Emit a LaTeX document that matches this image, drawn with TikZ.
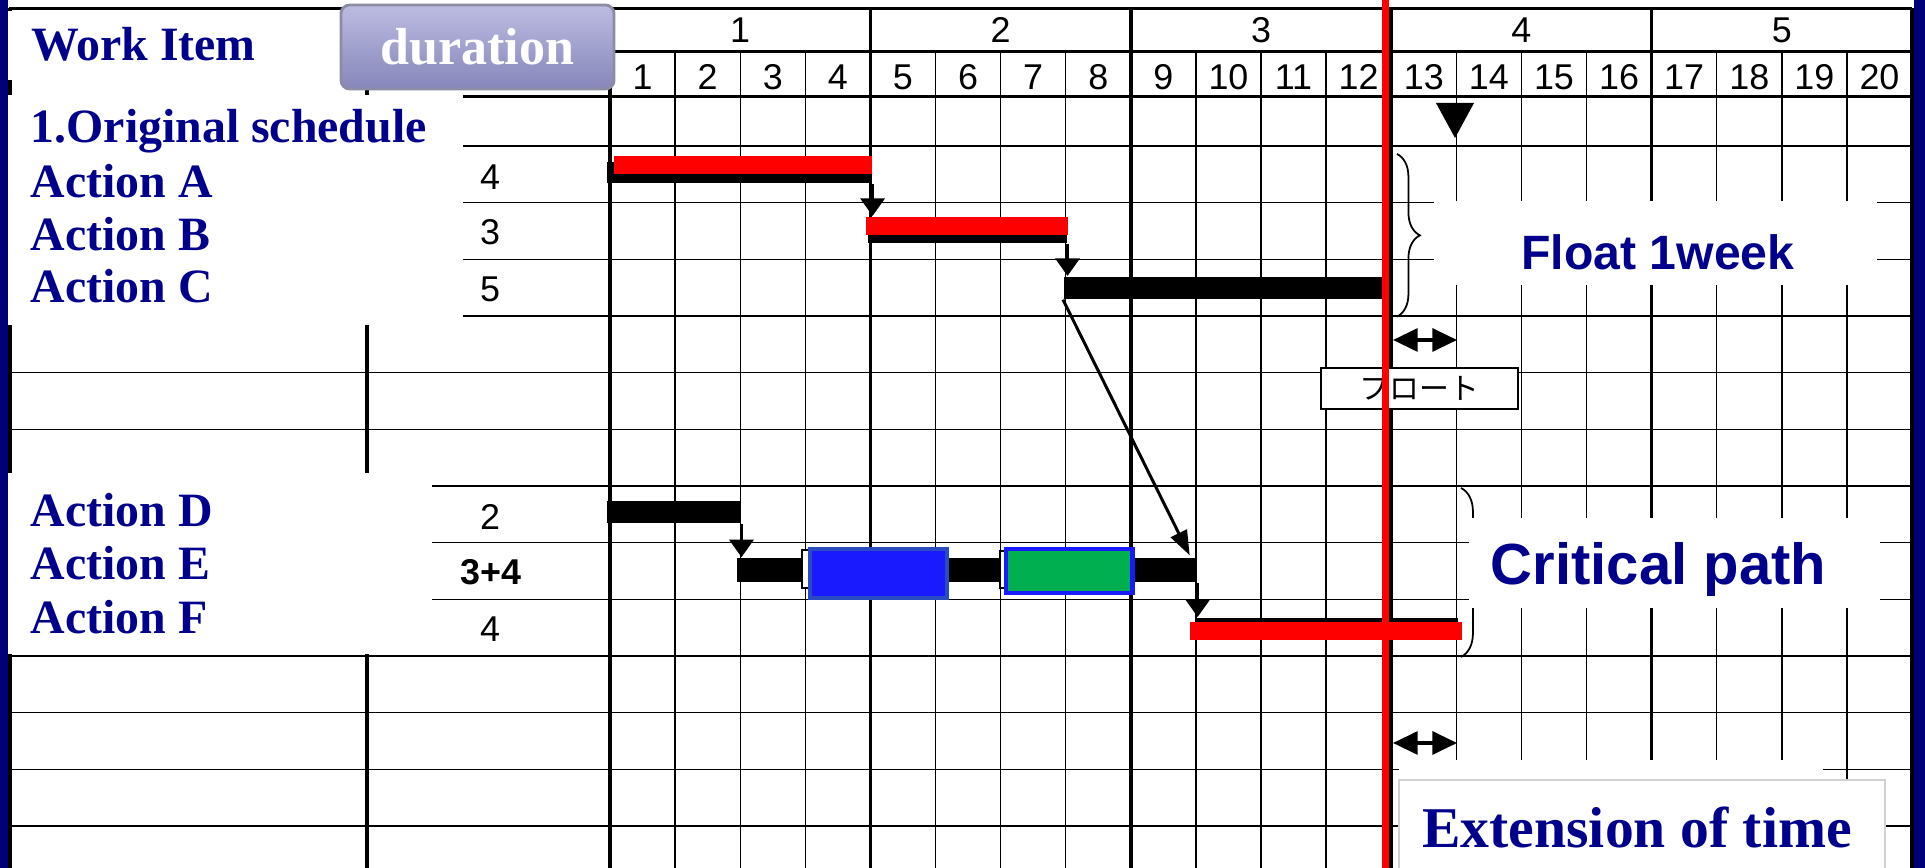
\documentclass[tikz,border=0pt]{standalone}
\usepackage{fontspec}
\setmainfont{Liberation Serif}
\newfontfamily\numfont{Liberation Sans}
\newfontfamily\jpfont{Noto Sans CJK JP}
\usetikzlibrary{arrows.meta,calc,positioning,decorations.pathreplacing}
\definecolor{navy}{RGB}{0,0,140}
\definecolor{edgeblue}{RGB}{0,0,120}
\definecolor{boxblue}{RGB}{26,26,255}
\definecolor{boxrim}{RGB}{43,75,192}
\definecolor{boxgreen}{RGB}{0,176,80}
\definecolor{durtop}{RGB}{188,188,226}
\definecolor{durbot}{RGB}{134,134,186}
\definecolor{durrim}{RGB}{140,140,165}

\begin{document}
\begin{tikzpicture}[x=0.01cm,y=-0.01cm,>=Stealth,
  gridline/.style={line width=0.4pt},
  weekline/.style={line width=1pt},
  item/.style={anchor=base west,inner sep=0,text=navy,font=\fontsize{13.6}{15}\selectfont\bfseries},
  num/.style={anchor=base,inner sep=0,font=\numfont\fontsize{10.2}{12}\selectfont},
  plan/.style={anchor=north west,inner sep=0,fill=black},
  crit/.style={anchor=north west,inner sep=0,fill=red},
  link/.style={-{Triangle[length=5pt,width=6.8pt]},line width=1pt},
  floatspan/.style={{Triangle[length=7pt,width=6.5pt]}-{Triangle[length=7pt,width=6.5pt]},line width=1pt},
  curly/.style={decorate,decoration={brace,amplitude=#1},line width=0.5pt},
  callout/.style={anchor=base,inner sep=0,text=navy,font=\numfont\bfseries\fontsize{13.7}{15}\selectfont},
  durbox/.style={rounded corners=2.5pt,top color=durtop,bottom color=durbot,draw=durrim,line width=0.8pt,
    minimum width=2.73cm,minimum height=0.84cm,inner sep=0,text=white,font=\fontsize{14.8}{16}\selectfont\bfseries}]
\useasboundingbox (0,0) rectangle (1925,868);
\fill[white] (0,0) rectangle (1925,868);
\foreach \k in {1,2,3,5,6,7,9,10,11,13,14,15,17,18,19}
  \draw[gridline] ({610+65.1*\k},51.7) -- ({610+65.1*\k},868);
\foreach \r in {0,...,12}
  \draw[gridline] (9,{146+56.67*\r}) -- (1912,{146+56.67*\r});
\foreach \k in {0,4,...,20}
  \draw[weekline] ({610+65.1*\k},8.3) -- ({610+65.1*\k},868);
\draw[weekline] (9,8.3) -- (1912,8.3);
\draw[weekline] (610,51.7) -- (1912,51.7);
\draw[weekline] (9,96.7) -- (1912,96.7);
\draw[weekline] (9.8,8.3) -- (9.8,868);
\draw[weekline] (367,8.3) -- (367,868);
\fill[white] (8,11.5) rectangle (341,80);
\fill[white] (8,95) rectangle (463,325);
\fill[white] (8,473) rectangle (432,654);

\node[durbox] (dur) at (477.5,47) {duration};
\node[item] (hdr) at (30.5,61) {Work Item};
\node[item] (orig) at (30,143) {1.Original schedule};
\node[item] (actA) at (30,198) {Action A};
\node[item] (actB) at (30,251) {Action B};
\node[item] (actC) at (30,303) {Action C};
\node[item] (actD) at (30,527) {Action D};
\node[item] (actE) at (30,580) {Action E};
\node[item] (actF) at (30,633.5) {Action F};
\node[num] (durA) at (490,190) {4};
\node[num] (durB) at (490,245) {3};
\node[num] (durC) at (490,301.7) {5};
\node[num] (durD) at (490,530) {2};
\node[num,font=\numfont\bfseries\fontsize{10.2}{12}\selectfont] (durE) at (491,585) {3+4};
\node[num] (durF) at (490,641.7) {4};
\foreach \w in {1,...,5}
  \node[num] (wk\w) at ({610+65.1*(4*\w-2)},43) {\w};
\foreach \d in {1,...,20}
  \node[num] (day\d) at ({610+65.1*(\d-0.5)},89.3) {\d};

\fill (1436,103) -- (1474,103) -- (1455,138) -- cycle;

\node[plan,minimum width=2.65cm,minimum height=0.21cm] (planA) at (606,161.7) {};
\node[crit,minimum width=2.58cm,minimum height=0.18cm] (critA) at (613,155.7) {};
\node[plan,minimum width=1.99cm,minimum height=0.213cm] (planB) at (867,221) {};
\node[crit,minimum width=2.024cm,minimum height=0.183cm] (critB) at (865,216) {};
\node[plan,minimum width=3.28cm,minimum height=0.223cm] (planC) at (1063,276) {};
\node[plan,minimum width=1.34cm,minimum height=0.22cm] (planD) at (606,500.7) {};
\node[plan,minimum width=4.60cm,minimum height=0.244cm] (planE) at (736,557.3) {};
\node[plan,minimum width=2.63cm,minimum height=0.15cm] (planF) at (1194,617) {};
\node[crit,minimum width=2.72cm,minimum height=0.183cm] (critF) at (1189,621) {};
\draw[fill=white,line width=0.5pt] (802,550) rectangle (815,588);
\draw[fill=boxblue,draw=boxrim,line width=1.3pt] (809.8,548.9) rectangle (946.8,597.8);
\draw[fill=white,line width=0.5pt] (1000,551) rectangle (1012,588);
\draw[fill=boxgreen,draw=boxblue,line width=1.2pt] (1006,548.7) rectangle (1132.4,593);

\draw[link] (planA.south east) -- (planA.south east |- critB.north);
\draw[link] (planB.south east) -- (planB.south east |- planC.north);
\draw[link] (planD.south east) -- (planD.south east |- planE.north);
\draw[link] (planE.south east) -- (planE.south east |- planF.north);
\draw[-{Triangle[length=7pt,width=5pt]},line width=0.85pt] (planC.south west) -- ($(planE.north east)+(-8,-2)$);

\coordinate (fltop) at (1397,154);
\coordinate (flbot) at (1397,316.7);
\draw[curly=6.5pt] (fltop) -- (flbot);
\fill[white] (1434,201) rectangle (1877,285);
\node[callout] (float) at (1658,270) {Float 1week};

\coordinate (cptop) at (1461,488);
\coordinate (cpbot) at (1461,657);
\draw[curly=6.8pt] (cptop) -- (cpbot);
\fill[white] (1469,518) rectangle (1880,608);
\node[callout,font=\numfont\bfseries\fontsize{16.5}{18}\selectfont] (critpath) at (1658.4,585) {Critical path};

\node[draw,line width=0.6pt,fill=white,minimum width=1.97cm,minimum height=0.41cm,inner sep=0,
  font=\jpfont\fontsize{8.5}{9}\selectfont] (flotebox) at (1419.5,388.5) {フロート};
\coordinate (fa) at (1393,340);
\coordinate (fb) at (1457,340);
\draw[floatspan] (fa) -- (fb);
\coordinate (ea) at (1393,743);
\coordinate (eb) at (1457,743);
\draw[floatspan] (ea) -- (eb);

\fill[white] (1399,760) rectangle (1823,781);
\draw[fill=white,draw=black!18,line width=0.6pt] (1399,780) rectangle (1885,872);
\node[item,anchor=base,font=\fontsize{16.4}{18}\selectfont\bfseries] (ext) at (1637,847) {Extension of time};

\draw[red,line width=2pt] (1385.5,0) -- (1385.5,868);
\fill[edgeblue] (0,0) rectangle (8.3,868);
\fill[edgeblue] (1914,0) rectangle (1925,868);
\end{tikzpicture}
\end{document}
